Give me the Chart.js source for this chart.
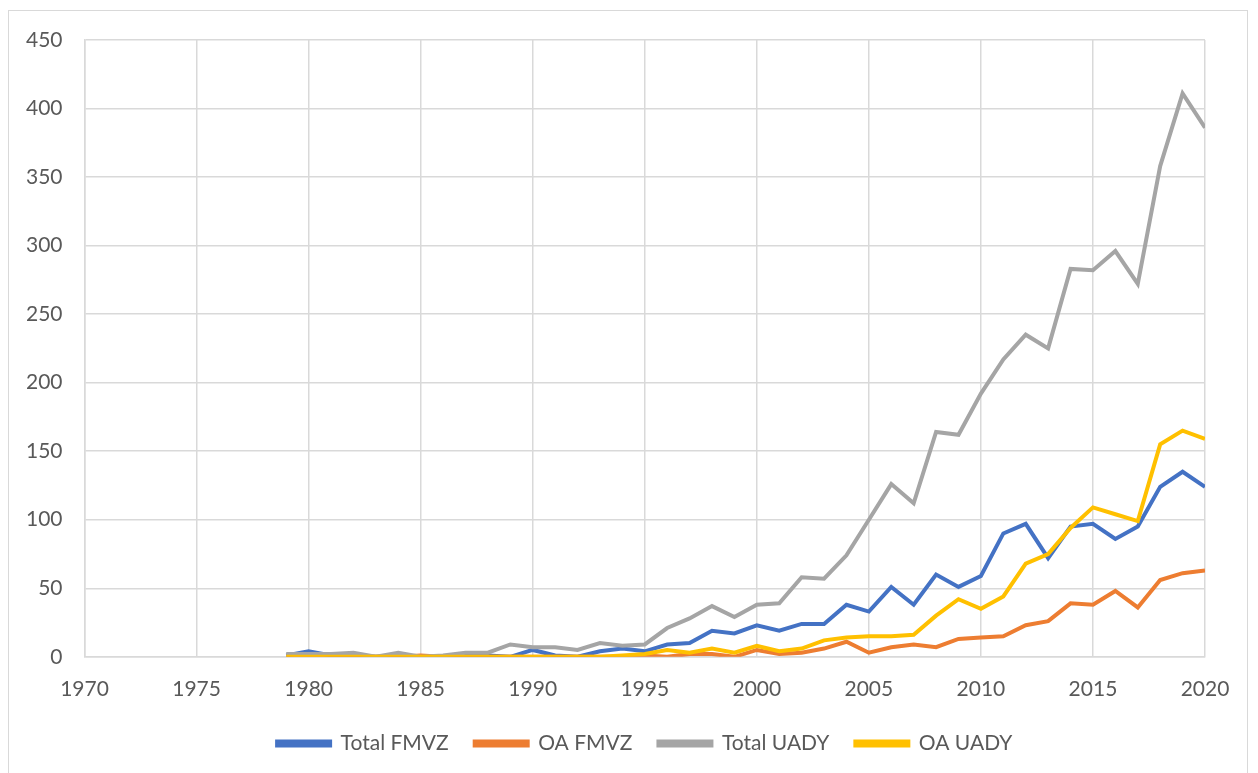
<!DOCTYPE html>
<html>
<head>
<meta charset="utf-8">
<script src="https://cdn.jsdelivr.net/npm/chart.js@4"></script>
<style>
  html, body { margin: 0; padding: 0; background: #fff; }
  #wrap { position: relative; width: 1258px; height: 773px; }
  #frame { position: absolute; left: 8px; top: 10px; width: 1238px; height: 780px; border: 1px solid #d9d9d9; }
  canvas { position: absolute; left: 0; top: 0; }
</style>
</head>
<body>
<div id="wrap">
  <div id="frame"></div>
  <canvas id="chart" width="1258" height="773"></canvas>
</div>
<script>
// years 1979..2020
const years = [1979, 1980, 1981, 1982, 1983, 1984, 1985, 1986, 1987, 1988, 1989,
  1990, 1991, 1992, 1993, 1994, 1995, 1996, 1997, 1998, 1999,
  2000, 2001, 2002, 2003, 2004, 2005, 2006, 2007, 2008, 2009,
  2010, 2011, 2012, 2013, 2014, 2015, 2016, 2017, 2018, 2019, 2020];

const totalFMVZ = [1, 4, 1, 1, 0, 1, 0, 0, 1, 1, 0,
  5, 1, 0, 4, 6, 4, 9, 10, 19, 17,
  23, 19, 24, 24, 38, 33, 51, 38, 60, 51,
  59, 90, 97, 72, 95, 97, 86, 95, 124, 135, 124];

const oaFMVZ = [0, 0, 0, 0, 0, 0, 1, 0, 0, 0, 0,
  0, 0, 0, 0, 0, 1, 0, 2, 2, 0,
  5, 2, 3, 6, 11, 3, 7, 9, 7, 13,
  14, 15, 23, 26, 39, 38, 48, 36, 56, 61, 63];

const totalUADY = [2, 2, 2, 3, 0, 3, 0, 1, 3, 3, 9,
  7, 7, 5, 10, 8, 9, 21, 28, 37, 29,
  38, 39, 58, 57, 74, 100, 126, 112, 164, 162,
  192, 217, 235, 225, 283, 282, 296, 272, 358, 411, 386];

const oaUADY = [0, 0, 0, 0, 0, 0, 0, 0, 0, 0, 0,
  0, 0, 0, 0, 1, 2, 5, 3, 6, 3,
  8, 4, 6, 12, 14, 15, 15, 16, 30, 42,
  35, 44, 68, 75, 94, 109, 104, 99, 155, 165, 159];

const seriesNames = ['Total FMVZ', 'OA FMVZ', 'Total UADY', 'OA UADY'];
const seriesColors = ['#4472C4', '#ED7D31', '#A5A5A5', '#FFC000'];
const seriesValues = [totalFMVZ, oaFMVZ, totalUADY, oaUADY];

const xMin = 1970, xMax = 2020, xStep = 5;
const yMin = 0, yMax = 450, yStep = 50;

const datasets = seriesNames.map((name, i) => ({
  label: name,
  data: years.map((yr, j) => ({ x: yr, y: seriesValues[i][j] })),
  borderColor: seriesColors[i],
  backgroundColor: seriesColors[i],
  borderWidth: 4,
  pointRadius: 0,
  tension: 0,
  order: seriesNames.length - i  // later series drawn on top, like Excel
}));

// pull the legend row a bit closer to the axis labels
const liftLegend = {
  id: 'liftLegend',
  afterLayout(chart) {
    const lg = chart.legend;
    if (lg) { lg.top -= 15; lg.bottom -= 15; }
  }
};

Chart.defaults.font.family = 'Lato, "Open Sans", sans-serif';
Chart.defaults.color = '#595959';

new Chart(document.getElementById('chart'), {
  type: 'line',
  data: { datasets },
  plugins: [liftLegend],
  options: {
    responsive: false,
    animation: false,
    layout: { padding: { left: 4, right: 53, top: 40, bottom: -6 } },
    scales: {
      x: {
        type: 'linear',
        min: xMin, max: xMax,
        ticks: { stepSize: xStep, font: { size: 21 }, padding: 20, color: '#595959',
                 callback: v => String(v) },
        grid: { color: '#d9d9d9', lineWidth: 1.5, drawTicks: false },
        border: { color: '#d9d9d9', width: 1.5 }
      },
      y: {
        min: yMin, max: yMax,
        ticks: { stepSize: yStep, font: { size: 21 }, padding: 22, color: '#595959' },
        grid: { color: '#d9d9d9', lineWidth: 1.5, drawTicks: false },
        border: { color: '#d9d9d9', width: 1.5 }
      }
    },
    plugins: {
      legend: {
        position: 'bottom',
        fullSize: false,
        labels: {
          boxWidth: 53,
          boxHeight: 4,
          padding: 26,
          font: { size: 21 },
          color: '#595959',
          sort: (a, b) => a.datasetIndex - b.datasetIndex
        }
      },
      tooltip: { enabled: false }
    }
  }
});
</script>
</body>
</html>
